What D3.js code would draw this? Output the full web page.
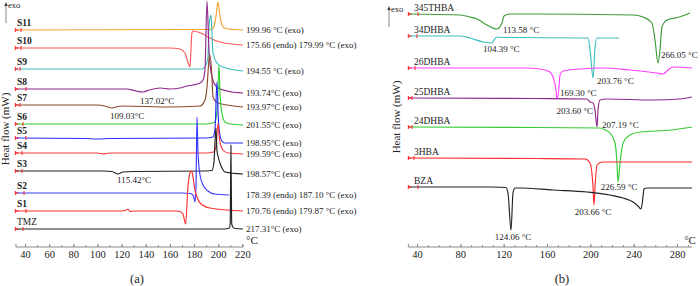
<!DOCTYPE html>
<html><head><meta charset="utf-8">
<script src="https://cdn.jsdelivr.net/npm/d3@7"></script>
<style>
body{margin:0;background:#fff}
svg{display:block}
text{font-family:"Liberation Serif","Times New Roman",Times,serif;fill:#222}
</style>
</head><body>
<svg id="c" width="700" height="286"></svg>
<script>
// ---------------- DATA ----------------
// Panel (a): temperature axis ticks (°C)
const tempTicksA = [40, 60, 80, 100, 120, 140, 160, 180, 200, 220];
// Panel (b): temperature axis ticks (°C)
const tempTicksB = [40, 80, 120, 160, 200, 240, 280];

// Panel (a) series (top to bottom); values: [temperature °C, stacked heat flow, arbitrary units]
const namesA = ["S11","S10","S9","S8","S7","S6","S5","S4","S3","S2","S1","TMZ"];
const S11 = [[32,217],[194,217.5],[196.5,221],[198.3,232],[199.8,245],[201.3,232],[203,222],[206,218.5],[212,217.5],[220.5,217]];
const S10 = [[32,199],[160,199],[168.3,198],[172.5,194],[174.9,185],[176.6,180],[177.4,197],[178.2,214],[179.1,216],[183.2,215],[187.4,213],[191.5,210],[201.4,205],[220.5,202]];
const S9  = [[32,178],[186.5,178],[189,180],[191.5,190],[192.3,220],[194,232],[194.8,214],[195.6,194],[198.9,184],[203.9,180],[220.5,176]];
const S8  = [[32,158],[124.4,158],[132,156],[137.7,155],[143,157],[151.8,159],[160,158],[168.3,159],[174.1,161],[179.1,162],[184.9,164],[187.4,167],[189,177],[190.7,246],[192.3,197],[194.8,170],[198.9,160],[207.2,156],[220.5,154]];
const S7  = [[32,142],[100,142],[106,141],[112,139],[117,140.5],[121.1,141],[160,140],[184.9,141],[189,147],[190.7,160],[192.3,187],[193.1,192],[194.8,170],[195.6,150],[199.8,144],[220.5,140]];
const S6  = [[32,123],[190,123],[195,124],[197.3,125],[199.2,140],[200.6,182],[201.6,150],[203.1,134],[205.6,125],[210,123],[220.5,122]];
const S5  = [[32,109],[90,108.5],[100,108],[110,108.5],[190,109],[195.6,110],[197.3,118],[198.9,165],[200,130],[201.4,112],[203,106],[205.6,104],[220.5,104]];
const S4  = [[32,94],[100,94],[105,93],[110,94],[190,94],[196,95],[198.1,100],[199.8,124],[200.6,112],[202,102],[203.9,97],[208,94],[220.5,93]];
const S3  = [[32,76],[105,76],[112,75.5],[117,73],[121,75],[130,75.5],[190,76],[194.8,76.5],[196.4,84],[198.1,119],[198.9,97],[200,90],[201.4,84],[203.5,78],[205.6,75],[220.5,73]];
const S2  = [[32,54],[170,54],[177,53.5],[179.5,51],[180.7,45],[181.6,62],[182.4,130],[183.2,95],[184.9,72],[187.4,62],[191.5,56],[197,53],[209,52]];
const S1  = [[32,36],[120,36],[124,37],[125.3,38],[127,35.5],[130,36],[165,36],[168.3,35.5],[170.8,33],[173,23],[174.9,60],[176.6,74],[178,76],[179.1,70],[180.7,57],[182.4,50],[184.9,44],[193.1,39],[220.5,36]];
const TMZ = [[32,18],[205,18],[209.3,19],[209.9,24],[210.5,102],[211.1,24],[212,20],[214,18.5],[220.5,18]];
const peakTextA = ["199.96 °C (exo)","175.66 (endo) 179.99 °C (exo)","194.55 °C (exo)","193.74°C (exo)","193.97°C (exo)","201.55°C (exo)","198.95°C (exo)","199.59°C (exo)","198.57°C (exo)","178.39 (endo) 187.10 °C (exo)","170.76 (endo) 179.87 °C (exo)","217.31°C (exo)"];
const markTA = [36.7,36.7,35.9,40.8,35.9,38.3,40.8,37.5,37.5,39.2,40.8,38.3];

// Panel (b) series
const namesB = ["345THBA","34DHBA","26DHBA","25DHBA","24DHBA","3HBA","BZA"];
const THBA345 = [[32,233],[80,232],[89,230],[95.4,228],[104.6,222],[113.8,218],[118.5,224],[120.3,231],[125,233],[144,233],[239.4,232],[248.6,230],[256.9,224],[259.7,207],[262.5,184],[264.3,197],[266.1,220],[270.8,227],[282.2,230],[292,234]];
const DHBA34 = [[32,211],[80,211],[89,209],[101,205],[109.2,204],[111,207],[113.8,210],[120,209.5],[197.8,209],[199.7,198],[202.5,169],[204.3,199],[206.2,209],[226.5,209]];
const DHBA26 = [[32,179],[140,179],[153.5,178],[162.8,175],[165.5,170],[168.3,157],[169.2,148],[171.1,160],[172,172],[174.8,176],[190.5,178],[211.7,179],[236.6,177],[261.5,174],[267.1,173],[271.7,177],[276.3,180],[293.8,179]];
const DHBA25 = [[32,149],[150,148.5],[196.9,148],[199.7,145],[202.5,144],[204.3,137],[206.2,120],[207.1,137],[208.9,147],[215.4,148],[257.8,147],[282.8,148],[293.8,150]];
const DHBA24 = [[32,120],[150,119.5],[208.9,119],[213.5,117],[218.2,114],[222.8,104],[224.6,84],[225.5,65],[227.4,84],[230.2,104],[236.6,112],[245.8,115],[275.4,117],[293.8,120]];
const HBA3 = [[32,89],[150,88.5],[195.1,88],[199.7,84],[202.5,60],[203.4,42],[204.3,60],[206.2,82],[210.8,85],[227.4,85],[293.8,85]];
const BZA = [[32,60],[110,60],[122,59.5],[124,54],[126.8,17],[128.6,54],[130.5,59],[135.1,59],[165.5,57],[196.9,55],[218.2,52],[230.2,49],[239.4,45],[244,41],[246.8,38],[248.6,50],[249.5,58],[252.3,59],[293.8,59]];
const markTB = [40.9,40,38.2,35.4,35.4,37.2,40.9];

// Panel (b) peak annotations
const annTextB = ["113.58 °C","104.39 °C","266.05 °C","203.76 °C","169.30 °C","203.60 °C","207.19 °C","226.59 °C","203.66 °C","124.06 °C"];
// Panel (a) low-temperature annotations
const annTextA = ["137.02°C","109.03°C","115.42°C"];

// ---------------- STYLE / LAYOUT ----------------
const FONT = '"Liberation Serif","Times New Roman",Times,serif';
const colorsA = ["#f7a22c","#ff5757","#3cbdbd","#8e2a8e","#8b4a2b","#2ecc2e","#2b2bff","#ff3b3b","#222222","#3b3bff","#ff3030","#222222"];
const colorsB = ["#3c9a34","#3cbdbd","#ff40ff","#8e2a8e","#33cc33","#ff2d2d","#222222"];
const seriesA = [S11,S10,S9,S8,S7,S6,S5,S4,S3,S2,S1,TMZ];
const seriesB = [THBA345,DHBA34,DHBA26,DHBA25,DHBA24,HBA3,BZA];
const ANN = 9;

const svg = d3.select("#c");
const AXIS_Y = 247;
const xA = d3.scaleLinear().domain([40,220]).range([25,242.4]);
const xB = d3.scaleLinear().domain([40,280]).range([417,677]);
const yS = d3.scaleLinear().domain([0,247]).range([AXIS_Y,0]);

function txt(sel){ return sel.append("text").attr("font-family",FONT); }

function drawPanel(x, series, names, colors, marks, opt) {
  const g = svg.append("g");
  const line = d3.line().x(d=>x(d[0])).y(d=>yS(d[1])).curve(d3.curveMonotoneX);
  series.forEach((s,i)=>{
    g.append("path").attr("d", line(s)).attr("fill","none")
      .attr("stroke", colors[i]).attr("stroke-width", 1.15).attr("stroke-linejoin","round");
    const y0 = yS(s[0][1]);
    [s[0][0], marks[i]].forEach(t=>{
      g.append("line").attr("x1",x(t)).attr("x2",x(t)).attr("y1",y0-2).attr("y2",y0+2)
        .attr("stroke","#ff2020").attr("stroke-width",1);
    });
    g.append("line").attr("x1",x(s[0][0])).attr("x2",x(s[0][0])+3).attr("y1",y0).attr("y2",y0)
      .attr("stroke","#ff2020").attr("stroke-width",1.2);
    txt(g).attr("x", opt.labelX).attr("y", y0 - opt.labelGap)
      .attr("font-size", opt.labelSize)
      .attr("font-weight", opt.bold && names[i][0]==="S" ? "bold" : "normal")
      .text(names[i]);
  });
  const ax = svg.append("g").attr("transform",`translate(0,${AXIS_Y})`);
  ax.call(d3.axisBottom(x).tickValues(opt.minor).tickSizeInner(-2).tickSizeOuter(0).tickFormat(""));
  ax.select(".domain").remove();
  ax.selectAll("line").attr("stroke","#888");
  const ax2 = svg.append("g").attr("transform",`translate(0,${AXIS_Y})`);
  ax2.call(d3.axisBottom(x).tickValues(opt.ticks).tickSizeInner(-3).tickSizeOuter(0).tickPadding(4));
  ax2.select(".domain").remove();
  ax2.attr("font-family",FONT);
  ax2.selectAll("line").attr("stroke","#888");
  ax2.selectAll("text").attr("font-family",FONT).attr("font-size",10.5).attr("fill","#222");
  svg.append("line").attr("x1",x(opt.axisFrom)).attr("x2",x(opt.axisTo))
    .attr("y1",AXIS_Y).attr("y2",AXIS_Y).attr("stroke","#888").attr("stroke-width",1);
  svg.append("line").attr("x1",x(opt.axisFrom)).attr("x2",x(opt.axisFrom))
    .attr("y1",AXIS_Y-3).attr("y2",AXIS_Y).attr("stroke","#888");
  txt(svg).attr("x", x(opt.axisTo)+opt.degDx).attr("y", AXIS_Y-3)
    .attr("font-size", 11).text("°C");
  svg.append("line").attr("x1",opt.exoX).attr("x2",opt.exoX).attr("y1",opt.exoY+20).attr("y2",opt.exoY+1)
    .attr("stroke","#888").attr("stroke-width",1);
  svg.append("path").attr("d",`M${opt.exoX-1.8},${opt.exoY+3}L${opt.exoX},${opt.exoY-1}L${opt.exoX+1.8},${opt.exoY+3}Z`).attr("fill","#444");
  txt(svg).attr("x",opt.exoX+2).attr("y",opt.exoY+5).attr("font-size",8.5).text("exo");
  txt(svg).attr("transform",`translate(${opt.yLabX},${opt.yLabY}) rotate(-90)`)
    .attr("text-anchor","middle").attr("font-size",11).text("Heat flow (mW)");
  txt(svg).attr("x",opt.tagX).attr("y",283).attr("text-anchor","middle")
    .attr("font-size",12.5).text(opt.tag);
  return g;
}

drawPanel(xA, seriesA, namesA, colorsA, markTA, {
  labelX:17, labelGap:4, labelSize:9.5, bold:true,
  ticks:tempTicksA, minor:d3.range(40,221,10), axisFrom:32.5, axisTo:220.5, degDx:3,
  exoX:6, exoY:3, yLabX:9, yLabY:129, tagX:137, tag:"(a)"
});
drawPanel(xB, seriesB, namesB, colorsB, markTB, {
  labelX:414, labelGap:3.5, labelSize:9.5, bold:false,
  ticks:tempTicksB, minor:d3.range(40,291,10), axisFrom:32, axisTo:294, degDx:-8,
  exoX:389, exoY:7, yLabX:400, yLabY:117, tagX:562, tag:"(b)"
});

seriesA.forEach((s,i)=>{
  const last = s[s.length-1];
  txt(svg).attr("x",246).attr("y",yS(last[1])).attr("dy","0.35em")
    .attr("font-size",ANN).text(peakTextA[i]);
});

const annA = [[S8,137.7,-3,12],[S7,112,-2,11],[S3,117,-1,9]];
annA.forEach((a,i)=>{
  const pt = a[0].find(d=>d[0]===a[1]);
  txt(svg).attr("x",xA(pt[0])+a[2]).attr("y",yS(pt[1])+a[3])
    .attr("font-size",ANN).text(annTextA[i]);
});

const annB = [
  [THBA345,113.8,"start",6,4],[DHBA34,109.2,"start",-9,9],[THBA345,262.5,"start",3,-5],
  [DHBA34,202.5,"start",4,6],[DHBA26,169.2,"start",3,-3],[DHBA25,202.5,"end",0,11],
  [DHBA25,206.2,"start",5,1],[DHBA24,225.5,"middle",1,8],[HBA3,203.4,"middle",-1,10],[BZA,126.8,"middle",2,10]
];
annB.forEach((a,i)=>{
  const pt = a[0].find(d=>d[0]===a[1]);
  txt(svg).attr("x",xB(pt[0])+a[3]).attr("y",yS(pt[1])+a[4])
    .attr("text-anchor",a[2]).attr("font-size",ANN).text(annTextB[i]);
});
</script>
</body></html>
